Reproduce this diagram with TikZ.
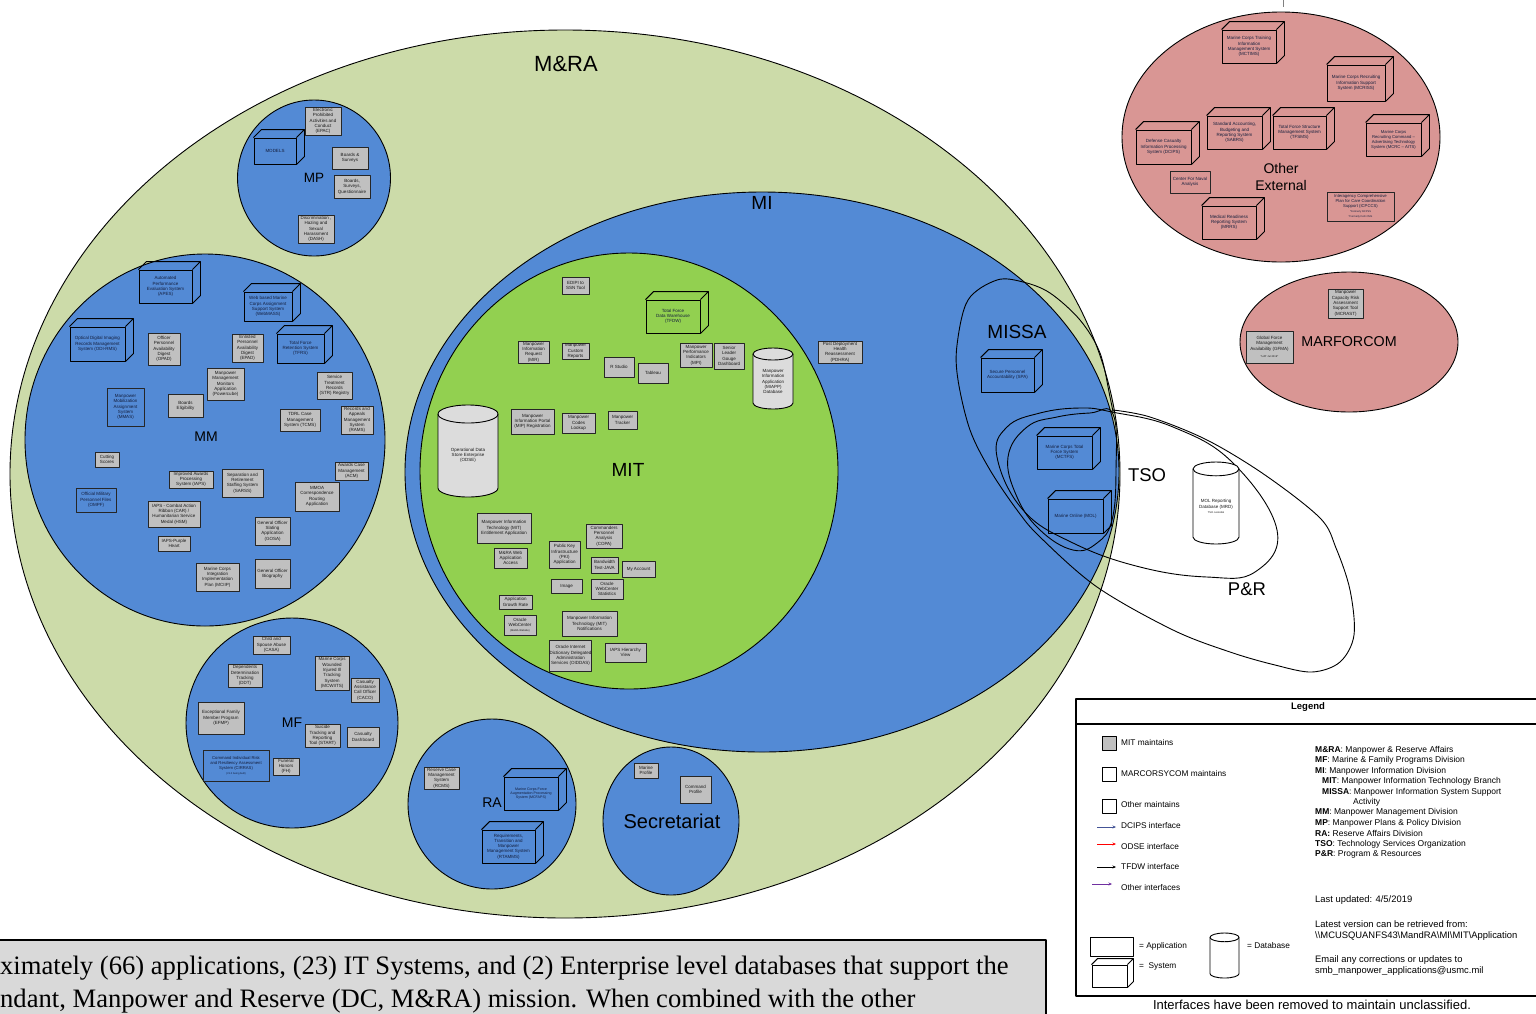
\documentclass[tikz,border=0pt]{standalone}
\usepackage{fontspec}
\setmainfont{Liberation Sans}
\newfontfamily\serifface{Liberation Serif}
\usetikzlibrary{arrows.meta,calc}

\definecolor{mragreen}{RGB}{204,219,169}
\definecolor{orgblue}{RGB}{83,138,213}
\definecolor{mitgreen}{RGB}{146,208,80}
\definecolor{extred}{RGB}{217,150,148}
\definecolor{appgrey}{RGB}{192,192,192}
\definecolor{dbgrey}{RGB}{220,220,220}
\definecolor{notegrey}{RGB}{217,217,217}
\definecolor{systext}{RGB}{20,30,60}
\definecolor{dcipsblue}{RGB}{68,84,150}
\definecolor{othpurple}{RGB}{112,48,160}

\newcommand\bxf{\fontsize{4.5}{5.3}\selectfont}
\newcommand\smallbxf{\fontsize{3.6}{4.4}\selectfont}
\newcommand\tinybxf{\fontsize{2.6}{3.2}\selectfont}

% application box: name, x1, y1, x2, y2 (pixel frame), text
\newcommand\appnode[7][]{%
  \node[appbox,#1,minimum width={#5-#3},minimum height={#6-#4}] (#2)
    at ({(#3+#5)/2},{(#4+#6)/2}) {#7};}
% system box: front face x1,y1,x2,y2 with an 8px top and side face
\newcommand\sysnode[7][]{%
  \node[sysbox,#1,minimum width={#5-#3},minimum height={#6-#4}] (#2)
    at ({(#3+#5)/2},{(#4+#6)/2}) {#7};
  \draw[sysedge] (#2.north west) -- ++(8,-8) -- ([shift={(8,-8)}]#2.north east)
    -- ([shift={(8,-8)}]#2.south east) -- (#2.south east)
    (#2.north east) -- ++(8,-8);}
% database cylinder: name, x1, y1, x2, y2, fill, text
\newcommand\dbnode[7]{%
  \pgfmathsetmacro\dbA{(#4-#2)/2}%
  \pgfmathsetmacro\dbH{(#5-#3)/2}%
  \pgfmathsetmacro\dbB{0.3*\dbA}%
  \begin{scope}[shift={({(#2+#4)/2},{(#3+#5)/2})},y=1pt]
    \filldraw[line width=0.9pt,fill=#6] (-\dbA,\dbH-\dbB) -- (-\dbA,-\dbH+\dbB)
      arc[start angle=180,end angle=360,x radius=\dbA,y radius=\dbB]
      -- (\dbA,\dbH-\dbB)
      arc[start angle=0,end angle=180,x radius=\dbA,y radius=\dbB] -- cycle;
    \draw[line width=0.9pt] (-\dbA,\dbH-\dbB)
      arc[start angle=180,end angle=360,x radius=\dbA,y radius=\dbB];
    \node[dbtext] (#1) at (0,-0.5*\dbB) {#7};
  \end{scope}}

\begin{document}
\begin{tikzpicture}[x=1pt,y=-1pt,line join=round,
  region/.style={draw=black,line width=0.9pt},
  appbox/.style={draw=black!85,line width=0.9pt,fill=appgrey,font=\bxf,align=center,inner sep=0.3pt,text=black!90},
  plainbox/.style={fill=none,text=systext},
  sysbox/.style={draw=black,line width=0.9pt,font=\bxf,align=center,inner sep=0.3pt,text=systext},
  sysedge/.style={draw=black,line width=0.9pt},
  dbtext/.style={font=\bxf,align=center,inner sep=0pt,text=black!90},
  lbl/.style={font=\fontsize{#1}{17}\selectfont,inner sep=0pt,align=center},
  legtext/.style={font=\fontsize{8.3}{10}\selectfont,anchor=west,inner sep=0pt},
  keytext/.style={font=\fontsize{8.5}{10}\selectfont,anchor=west,inner sep=0pt},
  notetext/.style={font=\fontsize{9.4}{11}\selectfont,anchor=west,inner sep=0pt},
  legsq/.style={draw=black,line width=0.9pt,minimum size=14,inner sep=0pt},
  legarrow/.style={-{Stealth[length=3.5pt,width=3pt]},line width=0.9pt}]

\useasboundingbox (0,0) rectangle (1536,1013);

% ---------------- organisational regions ----------------
\path[region,fill=mragreen] (565,474) ellipse[x radius=555,y radius=444];
\path[region,fill=orgblue] (314,178) ellipse[x radius=76.5,y radius=78];
\path[region,fill=orgblue] (205,440) ellipse[x radius=180,y radius=186];
\path[region,fill=orgblue] (292,723) ellipse[x radius=106,y radius=105];
\path[region,fill=orgblue] (492,804) ellipse[x radius=84,y radius=85];
\path[region,fill=orgblue] (671,821) ellipse[x radius=68,y radius=74];
\path[region,fill=orgblue] (762,472) ellipse[x radius=357,y radius=280];
\path[region,fill=mitgreen] (629,471) ellipse[x radius=209,y radius=218];

% MISSA outline
\draw[region] plot[smooth,tension=0.55] coordinates {(1113,412) (1110,397) (1100,353) (1080,320) (1050,293) (1023,282) (997,280) (968,300) (957,345) (958,380) (970,430) (990,470) (1017,510) (1040,537) (1097,587) (1173,630) (1230,652) (1275,665) (1312,672) (1340,662) (1354,635) (1350,590) (1336,548) (1320,518) (1265,475) (1207,440) (1150,417) (1113,410)};
% TSO loop
\draw[region] plot[smooth cycle,tension=0.7] coordinates {(1112,412) (1173,427) (1233,463) (1277,530) (1255,572) (1207,577) (1140,567) (1073,543) (1023,510) (997,457) (1007,427) (1040,413) (1080,408)};
% inner loop round MCTFS and MOL
\draw[region] plot[smooth cycle,tension=0.7] coordinates {(1113,414) (1116,470) (1112,520) (1097,543) (1073,550) (1040,530) (1017,497) (1008,457) (1027,427) (1057,417) (1090,413)};

% external organisations
\path[region,fill=extred] (1281,137) ellipse[x radius=159,y radius=125];
\path[region,fill=extred] (1349,342) ellipse[x radius=109,y radius=70];
\coordinate (stubA) at (1283,0);
\coordinate (stubB) at (1283,7);
\draw[black!50,line width=0.6pt] (stubA) -- (stubB);

% ---------------- region labels ----------------
\node[lbl=22] (mraL) at (566,64) {M\&RA};
\node[lbl=19] (miL) at (762,203) {MI};
\node[lbl=19] (mitL) at (628,470) {MIT};
\node[lbl=19] (missaL) at (1017,332) {MISSA};
\node[lbl=18.5] (tsoL) at (1147,475) {TSO};
\node[lbl=18.5] (prL) at (1247,589) {P\&R};
\node[lbl=13.5] (mpL) at (314,178) {MP};
\node[lbl=14] (mmL) at (206,437) {MM};
\node[lbl=14] (mfL) at (292,723) {MF};
\node[lbl=14] (raL) at (492,803) {RA};
\node[lbl=20] (secL) at (672,821) {Secretariat};
\node[lbl=14] (extL) at (1281,177) {Other\\External};
\node[lbl=14.3] (marL) at (1349,342) {MARFORCOM};

% ---------------- MP ----------------
\appnode{epac}{305}{107}{341}{135}{Electronic\\Prohibited\\Activities and\\Conduct\\(EPAC)}
\sysnode{models}{254}{138}{296}{164}{MODELS}
\appnode{bands}{332}{147}{368}{169}{Boards \&\\Surveys}
\appnode{bsq}{334}{175}{370}{198}{Boards,\\Surveys,\\Questionnaire}
\appnode{dash}{298}{215}{334}{243}{Discrimination ,\\Hazing and\\Sexual\\Harassment\\(DASH)}

% ---------------- MM ----------------
\sysnode{apes}{139}{270}{192}{303}{Automated\\Performance\\Evaluation System\\(APES)}
\sysnode{odirms}{70}{327}{125}{361}{Optical Digital Imaging\\Records Management\\System (ODI-RMS)}
\appnode{opad}{148}{333}{180}{365}{Officer\\Personnel\\Availability\\Digest\\(OPAD)}
\appnode[plainbox]{mmas}{107}{388}{144}{426}{Manpower\\Mobilization\\Assignment\\System\\(MMAS)}
\appnode{boardel}{168}{394}{203}{417}{Boards\\Eligibility}
\appnode{powercube}{207}{368}{244}{400}{Manpower\\Management\\Monitors\\Application\\(Powercube)}
\appnode{cutting}{95}{452}{119}{467}{Cutting\\Scores}
\appnode{iaps}{169}{471}{213}{488}{Improved Awards\\Processing\\System (IAPS)}
\appnode[plainbox]{ompf}{76}{488}{116}{512}{Official Military\\Personnel Files\\(OMPF)}
\appnode{iapscar}{148}{501}{200}{527}{IAPS - Combat Action\\Ribbon (CAR) /\\Humanitarian Service\\Medal (HSM)}
\appnode{iapsph}{158}{536}{190}{551}{IAPS-Purple\\Heart}
\sysnode{webmass}{244}{292}{292}{321}{Web based Marine\\Corps Assignment\\Support System\\(WebMASS)}
\appnode{epad}{232}{334}{263}{362}{Enlisted\\Personnel\\Availability\\Digest\\(EPAD)}
\sysnode{tfrs}{277}{334}{324}{363}{Total Force\\Retention System\\(TFRS)}
\appnode{str}{317}{372}{352}{399}{Service\\Treatment\\Records\\(STR) Registry}
\appnode{tcms}{280}{409}{320}{431}{TDRL Case\\Management\\System (TCMS)}
\appnode{rams}{341}{406}{373}{434}{Records and\\Appeals\\Management\\System\\(RAMS)}
\appnode{acm}{335}{462}{368}{480}{Awards Case\\Management\\(ACM)}
\appnode{sarss}{222}{469}{263}{497}{Separation and\\Retirement\\Staffing System\\(SARSS)}
\appnode{mmoa}{295}{482}{339}{511}{MMOA\\Correspondence\\Routing\\Application}
\appnode{gosa}{255}{517}{290}{545}{General Officer\\Slating\\Application\\(GOSA)}
\appnode{mciip}{196}{563}{239}{591}{Marine Corps\\Integration\\Implementation\\Plan (MCIIP)}
\appnode{gobio}{255}{559}{290}{588}{General Officer\\Biography}

% ---------------- MF ----------------
\appnode{casa}{253}{636}{290}{654}{Child and\\Spouse Abuse\\(CASA)}
\appnode{ddt}{228}{664}{262}{687}{Dependents\\Determination\\Tracking\\(DDT)}
\appnode{mcwiits}{315}{656}{349}{690}{Marine Corps\\Wounded\\Injured Ill\\Tracking\\System\\(MCWIITS)}
\appnode{caco}{351}{678}{379}{702}{Casualty\\Assistance\\Call Officer\\(CACO)}
\appnode{efmp}{198}{702}{244}{734}{Exceptional Family\\Member Program\\(EFMP)}
\appnode{starttool}{305}{724}{340}{747}{Suicide\\Tracking and\\Reporting\\Tool (START)}
\appnode{casdash}{347}{727}{379}{747}{Casualty\\Dashboard}
\appnode[plainbox,font=\fontsize{4.2}{5}\selectfont]{cirras}{203}{750}{269}{781}{Command Individual Risk\\and Resiliency Assessment\\System (CIRRAS)\\{\tinybxf (V1.0 being built)}}
\appnode{fh}{273}{758}{299}{775}{Funeral\\Honors\\(FH)}

% ---------------- RA ----------------
\appnode{rcms}{424}{767}{459}{789}{Reserve Case\\Management\\System\\(RCMS)}
\sysnode[font=\smallbxf]{mcfaps}{504}{777}{558}{810}{Marine Corps Force\\Augmentation Processing\\System (MCFAPS)}
\sysnode{rtamms}{482}{830}{535}{863}{Requirements,\\Transition and\\Manpower\\Management System\\(RTAMMS)}

% ---------------- Secretariat ----------------
\appnode{mprof}{634}{763}{658}{778}{Marine\\Profile}
\appnode{cprof}{680}{776}{711}{803}{Command\\Profile}

% ---------------- MIT ----------------
\appnode{edipi}{562}{277}{589}{294}{EDIPI to\\SSN Tool}
\sysnode{tfdw}{646}{300}{700}{333}{Total Force\\Data Warehouse\\(TFDW)}
\appnode{mir}{518}{341}{549}{363}{Manpower\\Information\\Request\\(MIR)}
\appnode{custom}{562}{343}{589}{359}{Manpower\\Custom\\Reports}
\appnode{rstudio}{604}{357}{634}{377}{R Studio}
\appnode{tableau}{638}{363}{668}{383}{Tableau}
\appnode{mpi}{680}{343}{712}{367}{Manpower\\Performance\\Indicators\\(MPI)}
\appnode{slgd}{714}{343}{744}{369}{Senior\\Leader\\Gouge\\Dashboard}
\dbnode{miapp}{753}{348}{793}{409}{dbgrey}{Manpower\\Information\\Application\\(MIAPP)\\Database}
\appnode{pdhra}{818}{341}{862}{363}{Post Deployment\\Health\\Reassessment\\(PDHRA)}
\dbnode{odse}{438}{405}{498}{497}{dbgrey}{Operational Data\\Store Enterprise\\(ODSE)}
\appnode{mipreg}{511}{409}{554}{434}{Manpower\\Information Portal\\(MIP) Registration}
\appnode{codes}{562}{413}{595}{433}{Manpower\\Codes\\Lookup}
\appnode{tracker}{608}{411}{637}{429}{Manpower\\Tracker}
\appnode{mitent}{477}{513}{531}{543}{Manpower Information\\Technology (MIT)\\Entitlement Application}
\appnode{mrawa}{494}{548}{527}{568}{M\&RA Web\\Application\\Access}
\appnode{copa}{586}{524}{622}{548}{Commanders\\Personnel\\Analysis\\(COPA)}
\appnode{pki}{549}{541}{580}{568}{Public Key\\Infrastructure\\(PKI)\\Application}
\appnode{bandw}{591}{557}{618}{573}{Bandwidth\\Test-JAVA}
\appnode{myacc}{622}{561}{655}{577}{My Account}
\appnode{image}{551}{579}{582}{593}{Image}
\appnode{owcs}{591}{579}{623}{599}{Oracle\\WebCenter\\Statistics}
\appnode{agr}{499}{595}{532}{609}{Application\\Growth Rate}
\appnode{owcm}{504}{615}{536}{635}{Oracle\\WebCenter\\{\tinybxf (M\&RA Website)}}
\appnode{mitnot}{562}{611}{617}{636}{Manpower Information\\Technology (MIT)\\Notifications}
\appnode{oiddas}{551}{640}{590}{671}{Oracle Internet\\Dictionary Delegated\\Administration\\Services (OIDDAS)}
\appnode{iapshv}{605}{643}{646}{662}{IAPS Hierarchy\\View}

% ---------------- MISSA / TSO ----------------
\sysnode{spa}{981}{358}{1034}{392}{Secure Personnel\\Accountability (SPA)}
\sysnode{mctfs}{1037}{436}{1092}{469}{Marine Corps Total\\Force System\\(MCTFS)}
\sysnode{mol}{1048}{499}{1103}{533}{Marine Online (MOL)}
\dbnode{mrd}{1193}{462}{1239}{544}{white}{MOL Reporting\\Database (MRD)\\{\tinybxf TSO custodial}}

% ---------------- Other External ----------------
\sysnode{mctims}{1222}{30}{1276}{63}{Marine Corps Training\\Information\\Management System\\(MCTIMS)}
\sysnode{mcriss}{1327}{65}{1385}{101}{Marine Corps Recruiting\\Information Support\\System (MCRISS)}
\sysnode{sabrs}{1207}{116}{1262}{149}{Standard Accounting,\\Budgeting and\\Reporting System\\(SABRS)}
\sysnode{tfsms}{1273}{116}{1326}{149}{Total Force Structure\\Management System\\(TFSMS)}
\sysnode[font=\fontsize{4.2}{5}\selectfont]{aits}{1366}{123}{1421}{156}{Marine Corps\\Recruiting Command --\\Advertising Technology\\System (MCRC -- AITS)}
\sysnode{dcips}{1136}{130}{1191}{164}{Defense Casualty\\Information Processing\\System (DCIPS)}
\appnode[plainbox]{cna}{1170}{171}{1210}{193}{Center For Naval\\Analysis}
\sysnode{mrrs}{1202}{206}{1256}{239}{Medical Readiness\\Reporting System\\(MRRS)}
\appnode[plainbox,font=\fontsize{4.2}{4.8}\selectfont]{icpccs}{1327}{192}{1394}{221}{Interagency Comprehensive\\Plan for Care Coordination\\Support (ICPCCS)\\{\tinybxf *Formerly RCPSS}\\[1pt]{\tinybxf *Formerly DoD CMS}}

% ---------------- MARFORCOM ----------------
\appnode{mcrast}{1328}{289}{1363}{318}{Manpower\\Capacity Risk\\Assessment\\Support Tool\\(MCRAST)}
\appnode{gfma}{1246}{331}{1293}{363}{Global Force\\Management\\Availability (GFMA)\\[2pt]{\tinybxf *UAT Jul 2019*}}

% ---------------- legend ----------------
\draw[line width=1.2pt,fill=white] (1076,699) rectangle (1550,996);
\draw[line width=1.2pt] (1076,724) -- (1550,724);
\node[font=\bfseries\fontsize{9.5}{11}\selectfont,inner sep=0pt] (legT) at (1308,707) {Legend};

\node[legsq,fill=appgrey] (lgMit) at (1109.5,743.5) {};
\node[legtext] (lgMitT) at (1121,743) {MIT maintains};
\node[legsq] (lgMcs) at (1109.5,774.5) {};
\node[legtext] (lgMcsT) at (1121,774) {MARCORSYCOM maintains};
\node[legsq] (lgOth) at (1109.5,806) {};
\node[legtext] (lgOthT) at (1121,805) {Other maintains};

\coordinate (arA1) at (1097,827); \coordinate (arB1) at (1116,827);
\coordinate (arA2) at (1097,844); \coordinate (arB2) at (1116,844);
\coordinate (arA3) at (1097,867); \coordinate (arB3) at (1116,867);
\coordinate (arA4) at (1092,884); \coordinate (arB4) at (1112,884);
\draw[legarrow,dcipsblue] (arA1) -- (arB1);
\draw[legarrow,red] (arA2) -- (arB2);
\draw[legarrow,black] (arA3) -- (arB3);
\draw[legarrow,othpurple] (arA4) -- (arB4);
\node[legtext] (lgD) at (1121,826) {DCIPS interface};
\node[legtext] (lgO) at (1121,847) {ODSE interface};
\node[legtext] (lgT) at (1121,867) {TFDW interface};
\node[legtext] (lgX) at (1121,888) {Other interfaces};

\node[draw=black,line width=0.9pt,minimum width=43,minimum height=19,inner sep=0pt] (lgApp) at (1111.5,946.5) {};
\node[legtext] (lgAppT) at (1139,946) {= Application};
\node[draw=black,line width=0.9pt,minimum width=35,minimum height=22,inner sep=0pt] (lgSys) at (1109.5,976) {};
\draw[sysedge] (lgSys.north west) -- ++(6,-6) -- ([shift={(6,-6)}]lgSys.north east)
  -- ([shift={(6,-6)}]lgSys.south east) -- (lgSys.south east) (lgSys.north east) -- ++(6,-6);
\node[legtext] (lgSysT) at (1139,966) {=\ \ System};
\dbnode{lgDb}{1210}{933}{1239}{978}{white}{}
\node[legtext] (lgDbT) at (1247,946) {= Database};

\node[keytext] (k1) at (1315,750) {\textbf{M\&RA}: Manpower \& Reserve Affairs};
\node[keytext] (k2) at (1315,760.5) {\textbf{MF}: Marine \& Family Programs Division};
\node[keytext] (k3) at (1315,771) {\textbf{MI}: Manpower Information Division};
\node[keytext] (k4) at (1322,781.5) {\textbf{MIT}: Manpower Information Technology Branch};
\node[keytext] (k5) at (1322,792) {\textbf{MISSA}: Manpower Information System Support};
\node[keytext] (k6) at (1353,802) {Activity};
\node[keytext] (k7) at (1315,812.5) {\textbf{MM}: Manpower Management Division};
\node[keytext] (k8) at (1315,823) {\textbf{MP}: Manpower Plans \& Policy Division};
\node[keytext] (k9) at (1315,833) {\textbf{RA:} Reserve Affairs Division};
\node[keytext] (k10) at (1315,844) {\textbf{TSO}: Technology Services Organization};
\node[keytext] (k11) at (1315,854) {\textbf{P\&R}: Program \& Resources};

\node[notetext] (n1) at (1315,900) {Last updated: 4/5/2019};
\node[notetext] (n2) at (1315,924) {Latest version can be retrieved from:};
\node[notetext] (n3) at (1315,936) {\textbackslash\textbackslash MCUSQUANFS43\textbackslash MandRA\textbackslash MI\textbackslash MIT\textbackslash Application};
\node[notetext] (n4) at (1315,960) {Email any corrections or updates to};
\node[notetext] (n5) at (1315,971) {smb\_manpower\_applications@usmc.mil};

\node[font=\fontsize{13}{15}\selectfont,inner sep=0pt] (unclass) at (1312,1005) {Interfaces have been removed to maintain unclassified.};

% ---------------- summary note ----------------
\draw[line width=1.2pt,fill=notegrey] (-10,940) rectangle (1046,1030);
\node[font=\serifface\fontsize{26.6}{30}\selectfont,anchor=west,inner sep=0pt] (sum1) at (0,968) {ximately (66) applications, (23) IT Systems, and (2) Enterprise level databases that support the};
\node[font=\serifface\fontsize{26.6}{30}\selectfont,anchor=west,inner sep=0pt] (sum2) at (0,1001) {ndant, Manpower and Reserve (DC, M\&RA) mission. When combined with the other};
\end{tikzpicture}
\end{document}
